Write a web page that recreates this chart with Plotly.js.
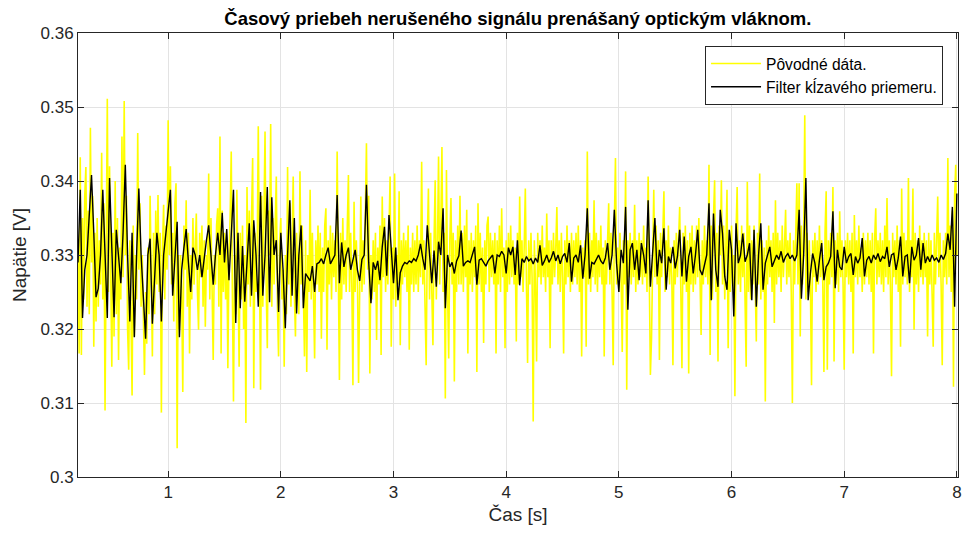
<!DOCTYPE html>
<html>
<head>
<meta charset="utf-8">
<script src="https://cdn.plot.ly/plotly-3.0.1.min.js"></script>
<style>html,body{margin:0;padding:0;background:#fff;}#chart{width:962px;height:533px;}</style>
</head>
<body>
<div id="chart"></div>
<script>
// Original (noisy) samples, 0.01 s apart starting at 0.20 s
const rawStart = 0.2;
const rawStep = 0.01;
const rawValues = [
.3300,.3167,.3432,.3165,.3350,.3240,.3380,.3419,.3230,.3360,
.3220,.3472,.3290,.3380,.3176,.3330,.3210,.3350,.3230,.3320,
.3260,.3438,.3240,.3370,.3090,.3320,.3511,.3250,.3420,.3280,
.3149,.3330,.3190,.3400,.3220,.3350,.3158,.3310,.3240,.3460,
.3270,.3508,.3300,.3380,.3200,.3145,.3320,.3220,.3110,.3340,
.3190,.3300,.3240,.3465,.3280,.3370,.3230,.3300,.3200,.3138,
.3250,.3180,.3310,.3220,.3380,.3240,.3163,.3330,.3220,.3360,
.3260,.3381,.3250,.3330,.3087,.3310,.3368,.3240,.3340,.3280,
.3482,.3300,.3420,.3260,.3330,.3210,.3370,.3397,.3039,.3300,
.3200,.3300,.3250,.3115,.3340,.3280,.3374,.3230,.3330,.3167,
.3300,.3240,.3350,.3260,.3310,.3356,.3250,.3199,.3330,.3270,
.3340,.3230,.3320,.3203,.3300,.3280,.3410,.3240,.3350,.3220,
.3158,.3300,.3260,.3340,.3363,.3230,.3460,.3167,.3360,.3250,
.3330,.3240,.3320,.3147,.3300,.3350,.3440,.3250,.3102,.3300,
.3220,.3388,.3260,.3149,.3330,.3240,.3340,.3200,.3300,.3073,
.3392,.3260,.3360,.3230,.3350,.3431,.3120,.3330,.3250,.3300,
.3474,.3260,.3118,.3380,.3230,.3350,.3467,.3260,.3174,.3360,
.3300,.3477,.3230,.3350,.3260,.3340,.3406,.3230,.3163,.3320,
.3350,.3240,.3280,.3149,.3300,.3220,.3419,.3260,.3370,.3230,
.3350,.3406,.3250,.3190,.3330,.3280,.3220,.3413,.3260,.3340,
.3230,.3163,.3320,.3142,.3300,.3250,.3388,.3240,.3330,.3260,
.3160,.3320,.3260,.3340,.3250,.3330,.3187,.3310,.3250,.3340,
.3363,.3172,.3320,.3260,.3340,.3240,.3330,.3270,.3320,.3250,
.3440,.3280,.3131,.3330,.3240,.3350,.3260,.3320,.3250,.3340,
.3408,.3250,.3330,.3260,.3124,.3372,.3250,.3320,.3270,.3127,
.3310,.3379,.3250,.3320,.3260,.3340,.3451,.3280,.3380,.3140,
.3300,.3240,.3320,.3250,.3330,.3185,.3310,.3260,.3340,.3165,
.3379,.3270,.3350,.3250,.3320,.3260,.3340,.3406,.3176,.3310,
.3240,.3410,.3230,.3300,.3260,.3386,.3178,.3320,.3260,.3330,
.3270,.3320,.3250,.3340,.3172,.3310,.3260,.3330,.3250,.3320,
.3260,.3340,.3250,.3320,.3270,.3426,.3260,.3320,.3230,.3151,
.3320,.3390,.3240,.3330,.3250,.3178,.3320,.3401,.3240,.3310,
.3433,.3260,.3340,.3446,.3250,.3330,.3106,.3415,.3250,.3160,
.3320,.3377,.3260,.3330,.3129,.3320,.3250,.3340,.3260,.3380,
.3260,.3330,.3250,.3340,.3270,.3361,.3167,.3320,.3260,.3330,
.3250,.3320,.3270,.3340,.3142,.3370,.3260,.3330,.3250,.3310,
.3181,.3320,.3260,.3340,.3352,.3250,.3330,.3270,.3320,.3260,
.3330,.3167,.3320,.3260,.3340,.3250,.3363,.3270,.3310,.3174,
.3320,.3250,.3330,.3260,.3340,.3270,.3320,.3260,.3310,.3183,
.3330,.3260,.3379,.3270,.3320,.3250,.3310,.3390,.3260,.3154,
.3320,.3260,.3330,.3270,.3075,.3320,.3260,.3156,.3330,.3270,
.3320,.3260,.3340,.3270,.3310,.3250,.3356,.3270,.3320,.3174,
.3320,.3260,.3330,.3270,.3310,.3365,.3260,.3320,.3250,.3330,
.3270,.3167,.3320,.3260,.3340,.3270,.3320,.3250,.3330,.3260,
.3320,.3270,.3330,.3260,.3340,.3250,.3320,.3163,.3310,.3270,
.3320,.3176,.3440,.3260,.3330,.3250,.3320,.3270,.3374,.3260,
.3330,.3250,.3320,.3270,.3340,.3260,.3310,.3163,.3320,.3260,
.3320,.3370,.3260,.3330,.3250,.3151,.3340,.3431,.3260,.3310,
.3250,.3330,.3270,.3169,.3320,.3260,.3413,.3118,.3320,.3270,
.3330,.3260,.3320,.3270,.3368,.3250,.3320,.3260,.3330,.3270,
.3320,.3260,.3340,.3270,.3310,.3250,.3406,.3270,.3138,.3187,
.3330,.3388,.3270,.3340,.3260,.3320,.3158,.3330,.3270,.3320,
.3386,.3250,.3320,.3270,.3340,.3260,.3310,.3270,.3151,.3320,
.3260,.3330,.3270,.3320,.3365,.3250,.3147,.3330,.3260,.3340,
.3250,.3320,.3140,.3330,.3260,.3340,.3250,.3320,.3260,.3340,
.3270,.3350,.3250,.3192,.3320,.3260,.3340,.3270,.3320,.3260,
.3422,.3165,.3340,.3240,.3350,.3401,.3250,.3330,.3156,.3340,
.3300,.3401,.3260,.3340,.3240,.3310,.3388,.3174,.3320,.3250,
.3340,.3260,.3300,.3109,.3330,.3392,.3260,.3320,.3250,.3340,
.3270,.3330,.3260,.3149,.3399,.3250,.3340,.3240,.3320,.3260,
.3340,.3250,.3183,.3330,.3260,.3410,.3240,.3320,.3250,.3310,
.3102,.3320,.3260,.3340,.3270,.3320,.3250,.3330,.3208,.3374,
.3260,.3330,.3270,.3320,.3250,.3340,.3270,.3310,.3361,.3260,
.3320,.3270,.3330,.3250,.3100,.3320,.3260,.3330,.3397,.3260,
.3397,.3190,.3340,.3260,.3320,.3489,.3240,.3330,.3250,.3320,
.3260,.3124,.3320,.3270,.3330,.3250,.3320,.3260,.3340,.3270,
.3320,.3260,.3142,.3330,.3386,.3145,.3320,.3260,.3330,.3270,
.3392,.3156,.3320,.3260,.3330,.3250,.3359,.3270,.3320,.3260,
.3145,.3320,.3270,.3330,.3260,.3320,.3250,.3330,.3167,.3354,
.3270,.3320,.3260,.3340,.3270,.3310,.3250,.3330,.3260,.3320,
.3270,.3330,.3260,.3320,.3250,.3330,.3167,.3320,.3363,.3260,
.3320,.3270,.3330,.3260,.3320,.3250,.3340,.3270,.3377,.3260,
.3320,.3260,.3136,.3330,.3270,.3320,.3260,.3340,.3250,.3320,
.3176,.3390,.3260,.3330,.3270,.3320,.3260,.3404,.3250,.3320,
.3270,.3390,.3199,.3330,.3260,.3320,.3250,.3340,.3270,.3320,
.3260,.3330,.3270,.3320,.3190,.3330,.3260,.3320,.3250,.3176,
.3330,.3260,.3320,.3379,.3270,.3330,.3260,.3151,.3320,.3270,
.3330,.3260,.3431,.3270,.3340,.3250,.3360,.3122,.3380,.3422,
.3300
];

// Moving-average filter output, 0.02 s apart starting at 0.20 s
const avgStart = 0.2;
const avgStep = 0.02;
const avgValues = [
.3290,.3388,.3215,.3280,.3300,
.3350,.3408,.3330,.3243,.3255,
.3300,.3388,.3300,.3215,.3404,
.3300,.3216,.3334,.3300,.3262,
.3330,.3422,.3300,.3210,.3330,
.3189,.3300,.3390,.3300,.3250,
.3187,.3300,.3322,.3207,.3280,
.3330,.3300,.3210,.3300,.3333,
.3360,.3388,.3245,.3300,.3345,
.3189,.3280,.3310,.3335,.3290,
.3250,.3310,.3300,.3280,.3300,
.3270,.3300,.3320,.3340,.3300,
.3260,.3300,.3330,.3300,.3357,
.3290,.3335,.3266,.3330,.3388,
.3208,.3330,.3228,.3312,.3237,
.3300,.3343,.3245,.3347,.3300,
.3230,.3385,.3245,.3300,.3392,
.3236,.3378,.3300,.3320,.3223,
.3330,.3280,.3201,.3300,.3374,
.3245,.3350,.3221,.3300,.3340,
.3228,.3275,.3270,.3265,.3285,
.3250,.3288,.3290,.3295,.3288,
.3300,.3310,.3288,.3295,.3300,
.3381,.3262,.3317,.3284,.3300,
.3310,.3280,.3295,.3307,.3280,
.3265,.3294,.3300,.3395,.3290,
.3235,.3290,.3280,.3292,.3266,
.3311,.3338,.3272,.3354,.3300,
.3262,.3310,.3239,.3276,.3285,
.3290,.3288,.3292,.3290,.3295,
.3292,.3300,.3315,.3295,.3280,
.3340,.3300,.3262,.3306,.3257,
.3318,.3300,.3363,.3228,.3300,
.3284,.3290,.3275,.3292,.3299,
.3333,.3285,.3290,.3292,.3290,
.3300,.3311,.3260,.3293,.3295,
.3290,.3285,.3292,.3296,.3300,
.3275,.3300,.3298,.3305,.3300,
.3275,.3310,.3300,.3311,.3273,
.3320,.3259,.3295,.3290,.3298,
.3292,.3295,.3288,.3296,.3290,
.3313,.3286,.3292,.3300,.3290,
.3296,.3305,.3292,.3300,.3288,
.3298,.3302,.3290,.3316,.3264,
.3296,.3300,.3290,.3313,.3268,
.3300,.3363,.3268,.3290,.3288,
.3295,.3300,.3292,.3288,.3296,
.3316,.3280,.3300,.3361,.3289,
.3250,.3307,.3289,.3365,.3226,
.3307,.3316,.3280,.3307,.3266,
.3316,.3300,.3275,.3374,.3257,
.3298,.3350,.3271,.3307,.3289,
.3336,.3253,.3298,.3289,.3311,
.3282,.3298,.3334,.3271,.3325,
.3264,.3298,.3311,.3275,.3300,
.3334,.3280,.3273,.3289,.3300,
.3370,.3239,.3356,.3280,.3257,
.3361,.3329,.3271,.3253,.3334,
.3307,.3217,.3343,.3289,.3300,
.3329,.3291,.3300,.3316,.3239,
.3334,.3230,.3300,.3343,.3253,
.3289,.3300,.3311,.3284,.3292,
.3300,.3294,.3305,.3290,.3298,
.3302,.3295,.3300,.3292,.3300,
.3361,.3241,.3300,.3404,.3239,
.3275,.3302,.3289,.3264,.3293,
.3316,.3266,.3284,.3289,.3298,
.3359,.3255,.3307,.3284,.3280,
.3311,.3289,.3298,.3302,.3273,
.3298,.3289,.3296,.3323,.3271,
.3293,.3298,.3289,.3300,.3294,
.3302,.3291,.3298,.3295,.3311,
.3284,.3300,.3302,.3280,.3296,
.3325,.3271,.3298,.3300,.3262,
.3311,.3293,.3300,.3323,.3280,
.3316,.3289,.3298,.3291,.3300,
.3293,.3296,.3290,.3300,.3294,
.3302,.3329,.3307,.3365,.3230,
.3383
];

const xTickVals = [1, 2, 3, 4, 5, 6, 7, 8];
const xTickText = ["1", "2", "3", "4", "5", "6", "7", "8"];
const yTickVals = [0.30, 0.31, 0.32, 0.33, 0.34, 0.35, 0.36];
const yTickText = ["0.3", "0.31", "0.32", "0.33", "0.34", "0.35", "0.36"];
const seriesNames = ["Pôvodné dáta.", "Filter kĺzavého priemeru."];
const titleText = "Časový priebeh nerušeného signálu prenášaný optickým vláknom.";
const xLabel = "Čas [s]";
const yLabel = "Napätie [V]";

const rawTime = rawValues.map((_, i) => +(rawStart + i * rawStep).toFixed(4));
const avgTime = avgValues.map((_, i) => +(avgStart + i * avgStep).toFixed(4));

const FONT = '"Liberation Sans", Arial, Helvetica, sans-serif';
const AXC = '#262626';

const traces = [
  {x: rawTime, y: rawValues, type: 'scatter', mode: 'lines', name: seriesNames[0],
   line: {color: '#ffff00', width: 1.6}},
  {x: avgTime, y: avgValues, type: 'scatter', mode: 'lines', name: seriesNames[1],
   line: {color: '#000000', width: 1.4}}
];

const axisCommon = {
  showline: true, linecolor: AXC, linewidth: 1, mirror: 'ticks',
  ticks: 'inside', ticklen: 6, tickcolor: AXC, tickwidth: 1,
  showgrid: true, gridcolor: '#e3e3e3', gridwidth: 1, zeroline: false,
  tickfont: {family: FONT, size: 17, color: AXC}
};

const layout = {
  width: 962, height: 533,
  margin: {l: 78, r: 4, t: 33, b: 56},
  paper_bgcolor: '#ffffff', plot_bgcolor: '#ffffff',
  font: {family: FONT, color: AXC},
  title: {text: '<b>' + titleText + '</b>', font: {family: FONT, size: 18.5, color: '#000000'},
          x: 0.5383, xanchor: 'center', y: 0.966, yanchor: 'middle'},
  xaxis: Object.assign({}, axisCommon, {
    range: [0.2, 8.01], tickvals: xTickVals, ticktext: xTickText,
    title: {text: xLabel, font: {family: FONT, size: 19, color: AXC}, standoff: 6}
  }),
  yaxis: Object.assign({}, axisCommon, {
    range: [0.30, 0.36], tickvals: yTickVals, ticktext: yTickText,
    title: {text: yLabel, font: {family: FONT, size: 19, color: AXC}, standoff: 8}
  }),
  showlegend: true,
  legend: {x: 0.983, xanchor: 'right', y: 0.971, yanchor: 'top',
           bgcolor: '#ffffff', bordercolor: AXC, borderwidth: 1,
           font: {family: FONT, size: 15.6, color: '#000000'},
           tracegroupgap: 0, itemwidth: 50}
};

Plotly.newPlot('chart', traces, layout, {displayModeBar: false, staticPlot: true});
</script>
</body>
</html>
